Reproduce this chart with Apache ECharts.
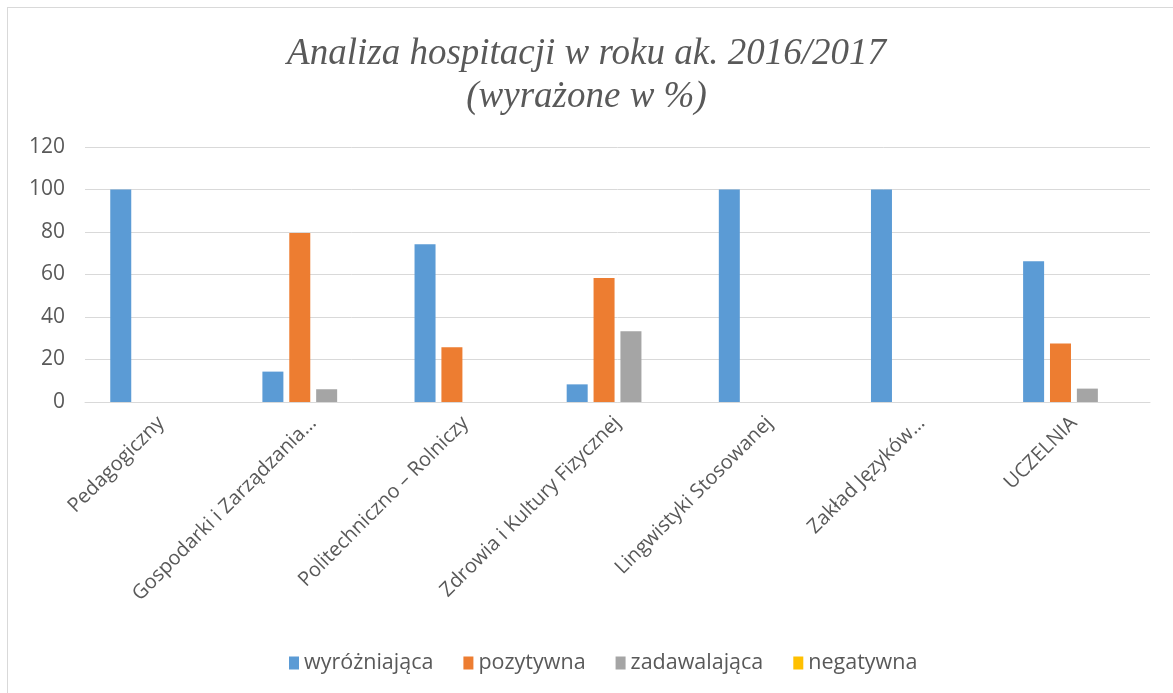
<!DOCTYPE html>
<html>
<head>
<meta charset="utf-8">
<script src="https://cdn.jsdelivr.net/npm/echarts@6/dist/echarts.min.js"></script>
<style>
  html, body { margin: 0; padding: 0; background: #fff; }
  #frame {
    position: absolute; left: 7px; top: 7px; width: 1180px; height: 700px;
    border: 1px solid #d9d9d9; box-sizing: border-box;
  }
  #chart { position: absolute; left: 0; top: 0; width: 1173px; height: 693px; }
</style>
</head>
<body>
<div id="frame"></div>
<div id="chart"></div>
<script>
// dane (%)
const categories = [
  'Pedagogiczny',
  'Gospodarki i Zarządzania…',
  'Politechniczno – Rolniczy',
  'Zdrowia i Kultury Fizycznej',
  'Lingwistyki Stosowanej',
  'Zakład Języków…',
  'UCZELNIA'
]
const wyrozniajaca = [100, 14.3, 74.2, 8.3, 100, 100, 66.2]
const pozytywna = [0, 79.5, 25.8, 58.3, 0, 0, 27.5]
const zadawalajaca = [0, 6.0, 0, 33.3, 0, 0, 6.3]
const negatywna = [0, 0, 0, 0, 0, 0, 0]

const seriesNames = ['wyróżniająca', 'pozytywna', 'zadawalająca', 'negatywna']
const seriesData = [wyrozniajaca, pozytywna, zadawalajaca, negatywna]
const colors = ['#5B9BD5', '#ED7D31', '#A5A5A5', '#FFC000']

const textColor = '#595959'
const labelFont = '"Open Sans", sans-serif'

const chart = echarts.init(document.getElementById('chart'))

chart.setOption({
  animation: false,
  color: colors,
  title: {
    text: 'Analiza hospitacji w roku ak. 2016/2017\n(wyrażone w %)',
    left: 'center',
    top: 28,
    textStyle: {
      fontFamily: '"Liberation Serif", serif',
      fontStyle: 'italic',
      fontWeight: 'normal',
      fontSize: 37,
      lineHeight: 43,
      color: textColor
    }
  },
  legend: {
    data: seriesNames,
    left: 284,
    top: 647,
    itemWidth: 10,
    itemHeight: 13,
    itemGap: 30,
    icon: 'rect',
    textStyle: {fontFamily: labelFont, fontSize: 21.5, color: textColor}
  },
  grid: {left: 85, right: 23, top: 147, bottom: 291},
  xAxis: {
    type: 'category',
    data: categories,
    axisLine: {lineStyle: {color: '#D9D9D9', width: 1}},
    axisTick: {show: false},
    axisLabel: {
      interval: 0,
      rotate: 45,
      margin: 18,
      fontFamily: labelFont,
      fontSize: 20,
      color: textColor
    }
  },
  yAxis: {
    type: 'value',
    min: 0,
    max: 120,
    interval: 20,
    axisLine: {show: false},
    axisTick: {show: false},
    splitLine: {lineStyle: {color: '#D9D9D9', width: 1}},
    axisLabel: {
      margin: 20,
      fontFamily: labelFont,
      fontSize: 21,
      color: textColor
    }
  },
  series: seriesNames.map((name, i) => ({
    name,
    type: 'bar',
    data: seriesData[i],
    barWidth: 21,
    barGap: '28%',
    itemStyle: {color: colors[i]}
  }))
})
</script>
</body>
</html>
